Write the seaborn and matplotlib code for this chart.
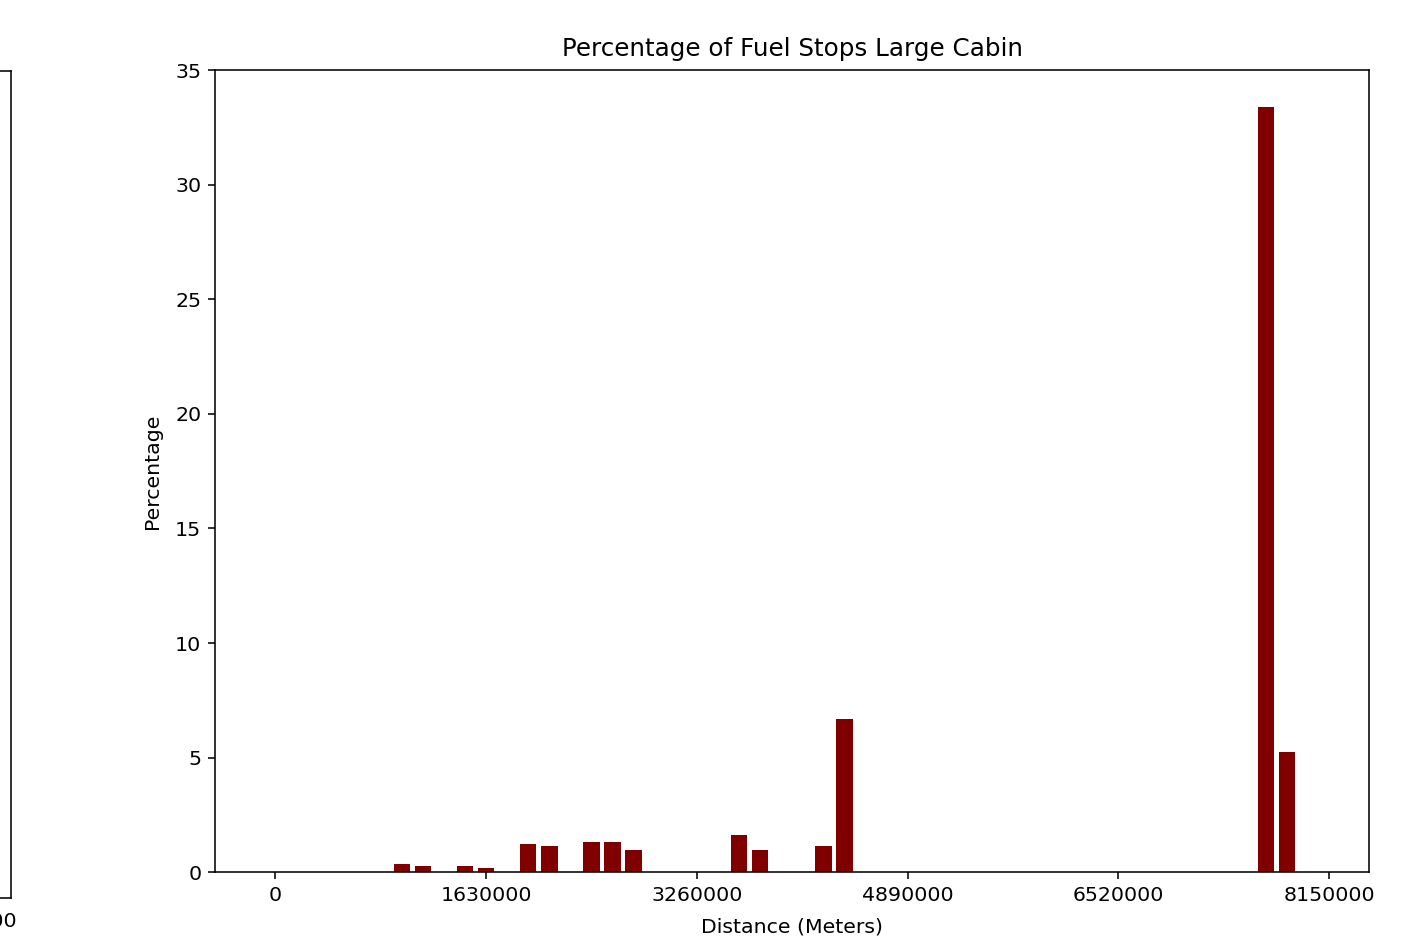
import numpy as np
import pandas as pd
import matplotlib
matplotlib.use("Agg")
import matplotlib.pyplot as plt
import seaborn as sns

# Histogram bins (metres), bin width 163000
bin_width = 163000
distance_bins = np.arange(0, 50) * bin_width
percentages = [
    0, 0, 0, 0, 0, 0, 0.38, 0.26, 0, 0.26,
    0.19, 0, 1.24, 1.16, 0, 1.31, 1.31, 0.97, 0, 0,
    0, 0, 1.61, 0.96, 0, 0, 1.16, 6.69, 0, 0,
    0, 0, 0, 0, 0, 0, 0, 0, 0, 0,
    0, 0, 0, 0, 0, 0, 0, 33.4, 5.25, 0,
]
tick_values = [0, 1630000, 3260000, 4890000, 6520000, 8150000]
tick_labels = [str(v) for v in tick_values]

title = "Percentage of Fuel Stops Large Cabin"
xlabel = "Distance (Meters)"
ylabel = "Percentage"
bar_color = "#800000"

plt.rcParams["xtick.labelsize"] = 10.45
plt.rcParams["ytick.labelsize"] = 10.45
plt.rcParams["axes.labelsize"] = 10.45
plt.rcParams["axes.titlesize"] = 12.55

df = pd.DataFrame({"distance": distance_bins, "percentage": percentages})

fig = plt.figure(figsize=(1413 / 141, 940 / 141), dpi=141)

# main axes
W, H = 1413, 940
ax = fig.add_axes([215 / W, 1 - 872.3 / H, (1369.3 - 215) / W, (872.3 - 70) / H])
sns.barplot(data=df, x="distance", y="percentage", native_scale=True,
            color=bar_color, width=0.78, linewidth=0, saturation=1,
            errorbar=None, ax=ax)
x_lo = -2.86 * bin_width
x_hi = 51.9 * bin_width
ax.set_xlim(x_lo, x_hi)
ax.set_ylim(0, 35)
ax.set_xticks(tick_values)
ax.set_xticklabels(tick_labels)
ax.set_title(title, pad=7)
ax.set_xlabel(xlabel, labelpad=6.5)
ax.set_ylabel(ylabel, labelpad=6.5)

# partially visible neighbouring subplot on the left (cropped)
width_px = 1369.3 - 215
ax_left = fig.add_axes([(11 - width_px) / W, 1 - 898 / H, width_px / W, (898 - 71) / H])
ax_left.set_xlim(x_lo, x_hi)
ax_left.set_xticks(tick_values[-1:])
ax_left.set_xticklabels(tick_labels[-1:])
ax_left.set_yticks([])

fig.savefig("out.png", dpi=141)
